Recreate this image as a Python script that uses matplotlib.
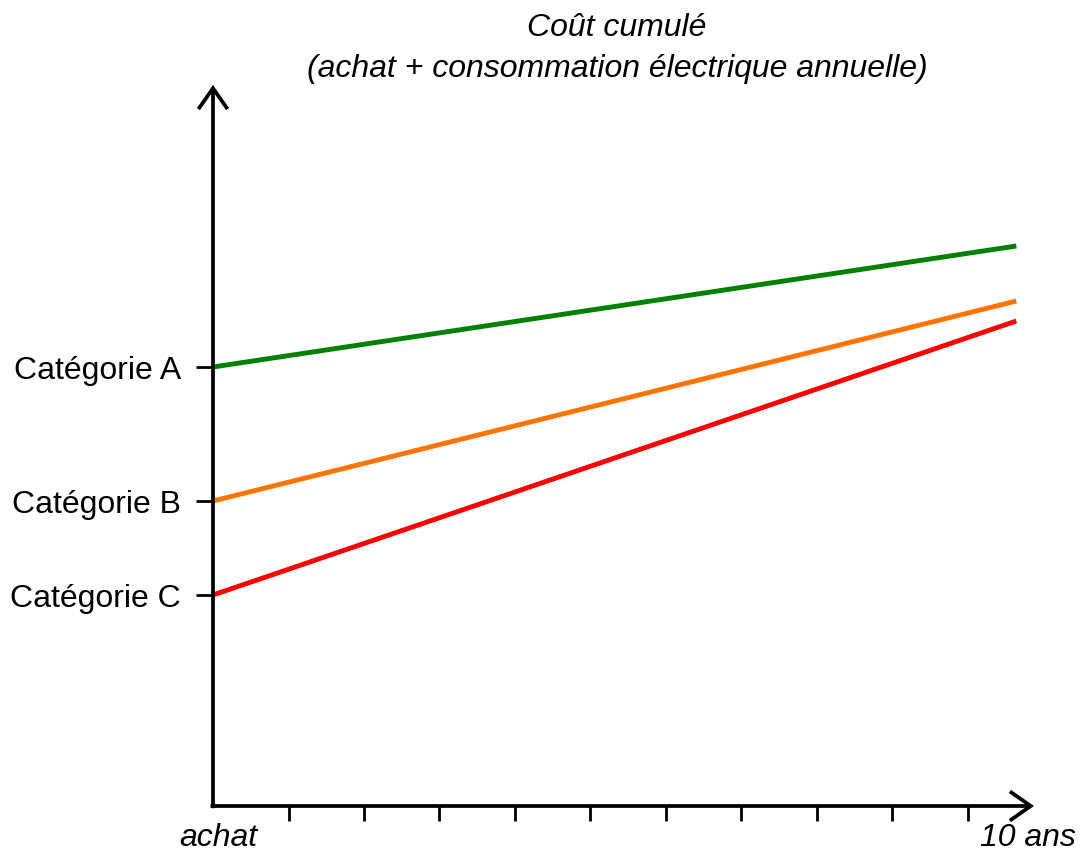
import matplotlib
matplotlib.use("Agg")
import matplotlib.pyplot as plt

plt.rcParams['font.family'] = ['Liberation Sans', 'DejaVu Sans']

# Data (arbitrary cost units)
years = [0, 10.64]
cost_A = [439, 560]
cost_B = [305, 505]
cost_C = [211, 485]
colors = ['#008000', '#ff7300', '#ff0000']
cat_labels = ['Catégorie A', 'Catégorie B', 'Catégorie C']
year_ticks = [1, 2, 3, 4, 5, 6, 7, 8, 9, 10]

W, H = 1082, 852
fig = plt.figure(figsize=(W / 100, H / 100), dpi=100)
x0, y0, x1, y1 = 213, 806, 1034, 85
ax = fig.add_axes([x0 / W, 1 - y0 / H, (x1 - x0) / W, (y0 - y1) / H])
ax.set_xlim(0, (x1 - x0) / 75.5)
ax.set_ylim(0, y0 - y1)

for s in ax.spines.values():
    s.set_visible(False)

for vals, c in zip([cost_A, cost_B, cost_C], colors):
    ax.plot(years, vals, color=c, lw=3.5, solid_capstyle='butt', clip_on=False)

# axes arrows
arrow_kw = dict(arrowstyle='->,head_length=0.5,head_width=0.35', lw=2.7, color='black',
                shrinkA=0, shrinkB=0, mutation_scale=30, joinstyle='miter', capstyle='butt')
ax.annotate('', xy=(0, 1), xytext=(0, -0.003), xycoords='axes fraction',
            arrowprops=arrow_kw, annotation_clip=False)
ax.annotate('', xy=(1, 0), xytext=(-0.003, 0), xycoords='axes fraction',
            arrowprops=arrow_kw, annotation_clip=False)

ax.set_yticks([cost_A[0], cost_B[0], cost_C[0]])
ax.set_yticklabels(cat_labels, fontsize=23)
ax.tick_params(axis='y', length=12, width=2.0, pad=11)
ax.set_xticks(year_ticks)
ax.set_xticklabels([])
ax.tick_params(axis='x', length=11, width=2.0, direction='out')

fig.text(218 / W, 1 - 838 / H, 'achat', fontsize=23, style='italic', ha='center', va='center')
fig.text(1028 / W, 1 - 838 / H, '10 ans', fontsize=23, style='italic', ha='center', va='center')

fig.text(617 / W, 1 - 28 / H, 'Coût cumulé', fontsize=23, style='italic', ha='center', va='center')
fig.text(617 / W, 1 - 69 / H, '(achat + consommation électrique annuelle)', fontsize=23,
         style='italic', ha='center', va='center')

fig.savefig('out.png', dpi=100)
